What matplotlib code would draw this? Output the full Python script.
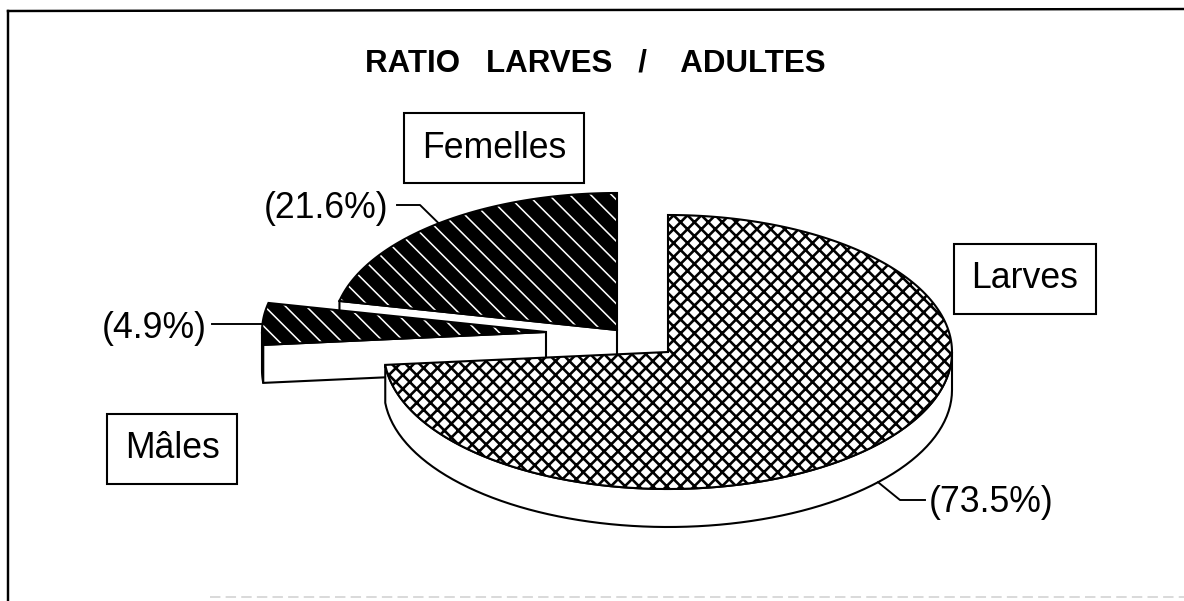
import numpy as np
import matplotlib
matplotlib.use("Agg")
import matplotlib.pyplot as plt
from matplotlib.patches import Polygon

# data (clockwise from 12 o'clock)
labels = ["Larves", "Mâles", "Femelles"]
shares = [73.5, 4.9, 21.6]
pct_labels = ["(73.5%)", "(4.9%)", "(21.6%)"]
title = "RATIO   LARVES   /    ADULTES"

# layout, in pixels of the 1184x601 picture
W, H, DPI = 1184, 601, 125
CX, CY = 620, 340
RX, RY = 284, 137
DEPTH = 38
explode = [(48, 12), (-74, -8), (-3, -10)]
box_pos = [(1025, 279), (172, 449), (494, 148)]
pct_pos = [(929, 503, "left"), (207, 328, "right"), (388, 208, "right")]
elbows = [(900, 500), None, (420, 205)]
leader_x = [925, 212, 397]


def ell(vx, vy, ang):
    a = np.radians(ang)
    return vx + RX * np.cos(a), vy - RY * np.sin(a)


def hatch_lw(patch, lw):
    try:
        patch.set_hatch_linewidth(lw)
    except AttributeError:
        pass
    return patch


def main():
    plt.rcParams["font.family"] = ["Liberation Sans", "DejaVu Sans"]
    plt.rcParams["hatch.linewidth"] = 1.2

    fig = plt.figure(figsize=(W / DPI, H / DPI), dpi=DPI)
    ax = fig.add_axes([0, 0, 1, 1])
    ax.set_xlim(0, W)
    ax.set_ylim(H, 0)
    ax.axis("off")

    # angle ranges
    ranges = []
    start = 90.0
    for s in shares:
        end = start - s * 3.6
        ranges.append((end, start))
        start = end

    # draw back slices first
    order = sorted(range(len(shares)), key=lambda i: CY + explode[i][1])
    for k, i in enumerate(order):
        a1, a2 = ranges[i]
        vx, vy = CX + explode[i][0], CY + explode[i][1]
        dark = labels[i] != "Larves"
        z = 2 + k * 3

        # outer side (front half only)
        lo, hi = max(a1, -180.0), min(a2, 0.0)
        if hi > lo:
            t = np.linspace(lo, hi, 80)
            xs, ys = ell(vx, vy, t)
            pts = np.vstack([np.column_stack([xs, ys]),
                             np.column_stack([xs[::-1], ys[::-1] + DEPTH])])
            ax.add_patch(Polygon(pts, closed=True, fc="white", ec="black",
                                 lw=1.2, zorder=z))

        # radial faces turned towards the viewer
        for ang, nrm in ((a1, a1 - 90), (a2, a2 + 90)):
            if np.sin(np.radians(nrm)) < -1e-3:
                px, py = ell(vx, vy, ang)
                pts = [(vx, vy), (px, py), (px, py + DEPTH), (vx, vy + DEPTH)]
                ax.add_patch(Polygon(pts, closed=True, fc="white", ec="black",
                                     lw=1.2, zorder=z))

        # top face
        t = np.linspace(a1, a2, 200)
        xs, ys = ell(vx, vy, t)
        pts = np.vstack([[vx, vy], np.column_stack([xs, ys])])
        if dark:
            ax.add_patch(hatch_lw(Polygon(pts, closed=True, fc="black",
                                          ec="white", lw=0, hatch="\\\\",
                                          zorder=z + 1), 0.9))
            ax.add_patch(Polygon(pts, closed=True, fill=False, ec="black",
                                 lw=1.2, zorder=z + 1.5))
        else:
            ax.add_patch(hatch_lw(Polygon(pts, closed=True, fc="white",
                                          ec="black", lw=1.2, hatch="xxx",
                                          zorder=z + 1), 1.5))

        # leader line from slice middle
        mid = (a1 + a2) / 2
        mx, my = ell(vx, vy, mid)
        if np.sin(np.radians(mid)) < 0:
            my = my + DEPTH
        path = [(mx, my)]
        if elbows[i] is not None:
            path.append(elbows[i])
        path.append((leader_x[i], path[-1][1]))
        path = np.array(path)
        ax.plot(path[:, 0], path[:, 1], color="black", lw=1.1, zorder=20)

        tx, ty, ha = pct_pos[i]
        ax.text(tx, ty, pct_labels[i], fontsize=20.5, ha=ha, va="center",
                zorder=21)

        bx, by = box_pos[i]
        ax.text(bx, by, labels[i], fontsize=20.5, ha="center", va="center",
                zorder=21,
                bbox=dict(boxstyle="square,pad=0.5", fc="white",
                          ec="black", lw=1.2))

    ax.text(595, 63, title, fontsize=18, fontweight="bold",
            ha="center", va="center")

    # page frame
    ax.plot([8, W], [11, 9], color="black", lw=1.4)
    ax.plot([8, 8], [11, H], color="black", lw=1.4)
    ax.plot([210, W], [597, 597], color="#d5d5d5", lw=1.0, ls=(0, (6, 3)))

    fig.savefig("out.png", dpi=DPI)


if __name__ == "__main__":
    main()
